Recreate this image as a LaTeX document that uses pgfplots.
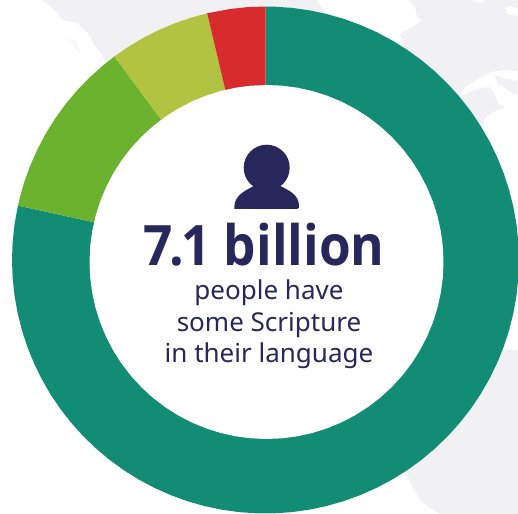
\documentclass[border=0pt]{standalone}
\usepackage{pgfplots}
\usepackage{fontspec}
\setmainfont{Noto Sans}
\newfontfamily\headfont{Open Sans}[FakeStretch=0.92]
\pgfplotsset{compat=1.18}

\definecolor{ringteal}{HTML}{128C74}
\definecolor{ringgreen}{HTML}{6BB22F}
\definecolor{ringolive}{HTML}{B2C241}
\definecolor{ringred}{HTML}{D82B2E}
\definecolor{navy}{HTML}{28275C}
\definecolor{mapgrey}{HTML}{F1F1F3}

\pgfplotsset{
    wedge/.style={draw=none, fill=#1, data cs=polar},
    land/.style={draw=none, fill=mapgrey},
}

\begin{document}
\begin{tikzpicture}
\begin{axis}[
    width=518bp,
    height=514bp,
    scale only axis,
    axis lines=none,
    xmin=-265.5, xmax=252.5,
    ymin=-254, ymax=260,
]

% background map, traced in picture pixels
\addplot[land] coordinates {
    (-223.5,260) (-210.5,250) (-202.5,240) (-188.5,237) (-177.5,227) (-172.5,217)
    (-163.5,205) (-160.5,198) (-140.5,190) (-65.5,200) (64.5,240) (56.5,252) (51.5,260)
} --cycle;
\addplot[land] coordinates {
    (142.5,260) (149.5,253) (151.5,243) (155.5,239) (147.5,233) (134.5,226) (137.5,216)
    (142.5,200) (189.5,163) (194.5,165) (199.5,173) (210.5,180) (225.5,188) (239.5,190) (252.5,189)
    (252.5,244) (242.5,246) (239.5,252) (245.5,254) (252.5,251)
    (252.5,260) (220.5,260) (215.5,257) (208.5,258) (205.5,260)
} --cycle;
\addplot[land] coordinates {
    (189.5,165) (195.5,164) (204.5,168) (215.5,172) (224.5,173) (229.5,165) (232.5,157)
    (239.5,152) (227.5,148) (219.5,142) (217.5,135) (209.5,140) (189.5,165)
} --cycle;
\addplot[land] coordinates {
    (229.5,185) (237.5,182) (247.5,180) (252.5,179) (252.5,165) (244.5,168) (237.5,174) (232.5,176)
} --cycle;
\addplot[land] coordinates {
    (252.5,-90) (242.5,-89) (234.5,-90) (224.5,-90) (134.5,-210) (142.5,-218) (147.5,-227)
    (154.5,-240) (164.5,-248) (174.5,-254) (252.5,-254)
} --cycle;
\addplot[draw=none, fill=mapgrey!60] coordinates {
    (-196.5,221) (-190.5,220) (-185.5,210) (-184.5,205) (-189.5,210)
} --cycle;

% ring shares, angles in degrees
\addplot[wedge=ringteal] coordinates {
    (167.6,253.5) (172,253.5) (176,253.5) (180,253.5) (184,253.5) (188,253.5) (192,253.5) (196,253.5)
    (200,253.5) (204,253.5) (208,253.5) (212,253.5) (216,253.5) (220,253.5) (224,253.5) (228,253.5)
    (232,253.5) (236,253.5) (240,253.5) (244,253.5) (248,253.5) (252,253.5) (256,253.5) (260,253.5)
    (264,253.5) (268,253.5) (272,253.5) (276,253.5) (280,253.5) (284,253.5) (288,253.5) (292,253.5)
    (296,253.5) (300,253.5) (304,253.5) (308,253.5) (312,253.5) (316,253.5) (320,253.5) (324,253.5)
    (328,253.5) (332,253.5) (336,253.5) (340,253.5) (344,253.5) (348,253.5) (352,253.5) (356,253.5)
    (360,253.5) (364,253.5) (368,253.5) (372,253.5) (376,253.5) (380,253.5) (384,253.5) (388,253.5)
    (392,253.5) (396,253.5) (400,253.5) (404,253.5) (408,253.5) (412,253.5) (416,253.5) (420,253.5)
    (424,253.5) (428,253.5) (432,253.5) (436,253.5) (440,253.5) (444,253.5) (448,253.5) (450,253.5)
    (0,0)
} --cycle;
\addplot[wedge=ringgreen] coordinates {
    (126.6,253.5) (130,253.5) (134,253.5) (138,253.5) (142,253.5) (146,253.5) (150,253.5)
    (154,253.5) (158,253.5) (162,253.5) (166,253.5) (167.6,253.5) (0,0)
} --cycle;
\addplot[wedge=ringolive] coordinates {
    (103.3,253.5) (107,253.5) (111,253.5) (115,253.5) (119,253.5) (123,253.5) (126.6,253.5) (0,0)
} --cycle;
\addplot[wedge=ringred] coordinates {
    (90,253.5) (94,253.5) (98,253.5) (103.3,253.5) (0,0)
} --cycle;

% hole
\addplot[wedge=white, xshift=1bp, yshift=-2bp] coordinates {
    (0,177) (5,177) (10,177) (15,177) (20,177) (25,177) (30,177) (35,177) (40,177) (45,177) (50,177) (55,177)
    (60,177) (65,177) (70,177) (75,177) (80,177) (85,177) (90,177) (95,177) (100,177) (105,177) (110,177) (115,177)
    (120,177) (125,177) (130,177) (135,177) (140,177) (145,177) (150,177) (155,177) (160,177) (165,177) (170,177) (175,177)
    (180,177) (185,177) (190,177) (195,177) (200,177) (205,177) (210,177) (215,177) (220,177) (225,177) (230,177) (235,177)
    (240,177) (245,177) (250,177) (255,177) (260,177) (265,177) (270,177) (275,177) (280,177) (285,177) (290,177) (295,177)
    (300,177) (305,177) (310,177) (315,177) (320,177) (325,177) (330,177) (335,177) (340,177) (345,177) (350,177) (355,177)
} --cycle;

% person icon
\fill[navy] (axis cs:1.2,92.3) circle[radius=23bp];
\fill[navy] (axis cs:-31.2,53) .. controls (axis cs:-31,66) and (axis cs:-18,70) .. (axis cs:-12,74)
    -- (axis cs:15,74) .. controls (axis cs:22,70) and (axis cs:33.5,66) .. (axis cs:33.5,54)
    .. controls (axis cs:33.5,52) .. (axis cs:31.5,51) -- (axis cs:-31.2,51) -- cycle;

% labels
\node[anchor=base, text=navy, font=\headfont\bfseries\fontsize{56}{60}\selectfont, inner sep=0pt] at (axis cs:-1.5,-5.5) {7\kern-3bp.\kern-3bp 1 billion};
\node[anchor=base, text=navy, font=\fontsize{26.1}{31}\selectfont, inner sep=0pt] at (axis cs:3.5,-40) {people have};
\node[anchor=base, text=navy, font=\fontsize{26.1}{31}\selectfont, inner sep=0pt] at (axis cs:3.5,-72) {some Scripture};
\node[anchor=base, text=navy, font=\fontsize{26.1}{31}\selectfont, inner sep=0pt] at (axis cs:3.5,-102.7) {in their language};
\end{axis}
\path (current axis.south west) rectangle (current axis.north east);
\end{tikzpicture}
\end{document}
